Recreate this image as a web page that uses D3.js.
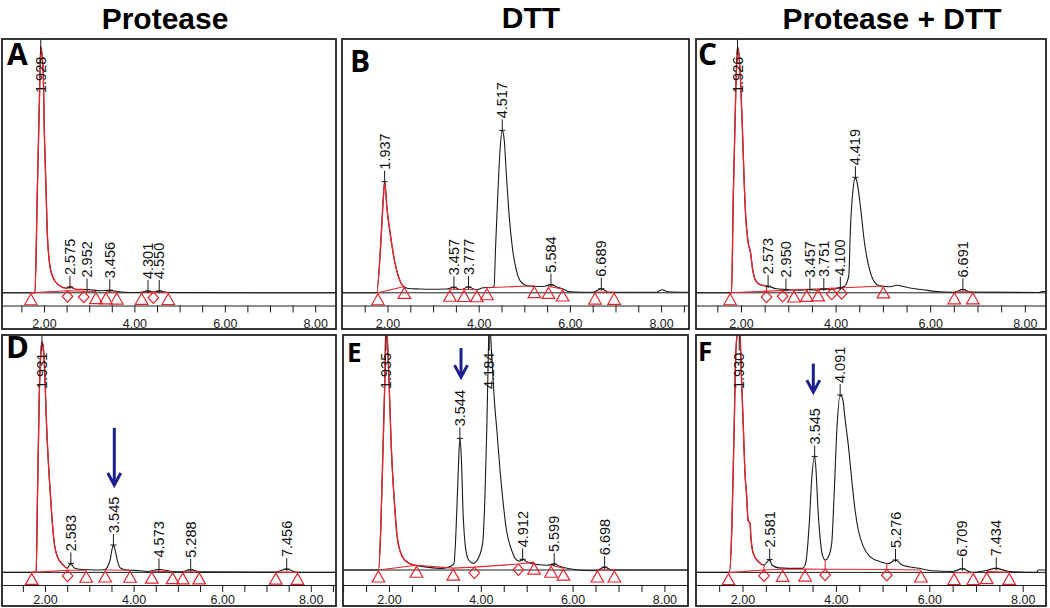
<!DOCTYPE html>
<html><head><meta charset="utf-8">
<script src="https://cdn.jsdelivr.net/npm/d3@7"></script>
<style>html,body{margin:0;padding:0;background:#fff;}svg{display:block;}</style>
</head><body>
<svg id="chart" width="1050" height="608"></svg>
<script>
// ---------------- DATA ----------------
const panelIds = ["A","B","C","D","E","F"];
const headers = ["Protease","DTT","Protease + DTT"];
const tickValues = [1,1.5,2,2.5,3,3.5,4,4.5,5,5.5,6,6.5,7,7.5,8,8.5];
const majorTicks = [2,4,6,8];
const tickLabels = ["2.00","4.00","6.00","8.00"];
const xDomains = [[1.071,8.460],[1.002,8.612],[1.049,8.448],[1.029,8.569],[0.998,8.514],[1.004,8.499]];
const yDomain = [-5,100];
const refLevels = [0,0,0,0.3,1.3,0.3];

// traces: [retention time (min), signal (% of full scale)]
const traceA = [[1.07,0],[1.80,0],[1.85,38],[1.90,77],[1.928,97],[1.96,93],[1.985,86],[2.007,64],[2.04,44],[2.07,25],[2.12,12],[2.19,6.4],[2.32,3.1],[2.50,1.8],[2.575,2.3],[2.73,1.3],[2.952,1.3],[3.25,0.8],[3.456,1.0],[3.72,0.3],[4.1,0.1],[4.301,0.7],[4.42,0.3],[4.55,0.7],[4.75,0.1],[8.46,0]];
const traceB = [[1.0,0],[1.76,0],[1.87,25],[1.91,38],[1.937,43.8],[1.99,33],[2.07,22],[2.15,13],[2.24,6.4],[2.35,2.5],[2.45,1.7],[2.7,1.5],[2.9,1.4],[3.3,1.5],[3.457,2.2],[3.6,1.2],[3.777,2.3],[3.95,1.2],[4.1,2.0],[4.3,2.2],[4.337,2.5],[4.37,18],[4.417,38],[4.467,56],[4.517,64],[4.561,60],[4.605,47],[4.663,31.5],[4.737,18],[4.824,9],[4.917,4.5],[5.067,2.8],[5.3,2.5],[5.45,2.6],[5.584,3.2],[5.7,2.4],[5.85,1.5],[6.0,0.4],[6.5,0.2],[6.689,1.6],[6.85,0.2],[7.9,0.2],[8.02,1.2],[8.15,0.4],[8.61,0.2]];
const traceC = [[1.05,0],[1.80,0],[1.837,38],[1.888,78],[1.926,97],[1.96,93],[1.99,84],[2.03,64.6],[2.065,45],[2.10,30],[2.15,20],[2.20,16],[2.245,9.4],[2.31,4.8],[2.42,3.1],[2.573,2.6],[2.75,1.6],[2.950,1.3],[3.2,1.0],[3.457,1.3],[3.6,1.0],[3.751,1.5],[3.9,1.3],[4.100,2.0],[4.19,2.6],[4.279,6.8],[4.313,25],[4.363,39.6],[4.419,45.5],[4.469,42],[4.539,31.7],[4.609,20],[4.715,9.4],[4.819,4.3],[4.926,2.8],[5.15,2.4],[5.29,3.0],[5.57,1.9],[5.85,1.2],[6.13,0.5],[6.5,0.2],[6.691,1.3],[6.85,0.3],[8.3,0.1],[8.37,0.5],[8.448,0.5]];
const traceD = [[1.03,0.3],[1.80,0.3],[1.83,32],[1.87,74],[1.91,93.7],[1.931,97],[1.96,95],[1.985,88],[2.04,60],[2.10,39],[2.15,25],[2.20,13.9],[2.28,6.9],[2.41,3.4],[2.50,2.1],[2.583,4.1],[2.66,2.1],[2.83,1.5],[3.13,1.3],[3.34,1.4],[3.47,5.5],[3.51,9.7],[3.545,11.8],[3.59,9],[3.64,4.8],[3.70,2.1],[3.85,1.3],[4.15,1.0],[4.30,0.7],[4.573,1.5],[4.86,0.7],[5.08,0.5],[5.288,1.4],[5.5,0.5],[7.2,0.4],[7.456,1.7],[7.7,0.3],[8.57,0.3]];
const traceE = [[1.0,1.3],[1.77,1.3],[1.82,18],[1.87,53],[1.91,81],[1.935,106],[1.96,100],[2.00,81],[2.05,53],[2.11,32],[2.18,15],[2.29,6.9],[2.44,4.1],[2.61,3.1],[2.83,2.5],[3.12,2.0],[3.30,2.5],[3.415,4],[3.475,25],[3.515,46],[3.544,56.6],[3.575,49],[3.615,25],[3.665,11],[3.735,5.5],[3.835,4.1],[3.925,5.5],[4.04,12.5],[4.09,32],[4.13,60],[4.16,88],[4.184,106],[4.24,91],[4.29,74],[4.35,60],[4.42,43],[4.49,29],[4.56,18],[4.67,9.7],[4.78,5.5],[4.85,5.0],[4.912,5.8],[5.0,4.8],[5.1,4.0],[5.28,3.5],[5.45,3.3],[5.599,3.8],[5.7,3.0],[5.88,2.0],[6.1,1.3],[6.5,1.0],[6.698,2.5],[6.85,1.3],[8.514,1.3]];
const traceF = [[1.0,0.3],[1.72,0.3],[1.77,18],[1.82,60],[1.86,94],[1.93,106],[1.98,81],[2.02,60],[2.05,43],[2.09,32],[2.12,22],[2.16,21],[2.18,15],[2.23,8.3],[2.34,4.8],[2.46,3.4],[2.581,5.7],[2.63,3.4],[2.78,2.2],[2.99,2.0],[3.28,2.0],[3.35,4],[3.43,21],[3.48,39],[3.545,49],[3.575,43],[3.61,29],[3.66,15],[3.72,6.9],[3.77,5.5],[3.84,6.9],[3.91,12.5],[3.96,32],[4.02,60],[4.091,74.8],[4.15,72.7],[4.19,65.7],[4.27,53],[4.34,39],[4.41,26.5],[4.48,18],[4.59,11],[4.73,6.9],[4.95,4.8],[5.13,4.0],[5.276,5.5],[5.42,3.4],[5.78,2.0],[6.06,1.0],[6.5,0.7],[6.709,1.8],[6.9,0.3],[7.2,1.0],[7.434,2.0],[7.7,0.7],[8.3,0.3],[8.33,1.3],[8.5,1.3]];

// labelled peaks (retention times)
const peaksA = [1.928,2.575,2.952,3.456,4.301,4.550];
const peaksB = [1.937,3.457,3.777,4.517,5.584,6.689];
const peaksC = [1.926,2.573,2.950,3.457,3.751,4.100,4.419,6.691];
const peaksD = [1.931,2.583,3.545,4.573,5.288,7.456];
const peaksE = [1.935,3.544,4.184,4.912,5.599,6.698];
const peaksF = [1.930,2.581,3.545,4.091,5.276,6.709,7.434];

// integration marks: [time, "t" triangle / "d" diamond, level]
const markersA = [[1.71,"t",0],[2.52,"d",0.8],[2.88,"d",0.6],[3.15,"t",0.5],[3.37,"t",0.4],[3.61,"t",0.3],[4.16,"t",0.2],[4.42,"d",0.3],[4.75,"t",0.1]];
const markersB = [[1.79,"t",0],[2.37,"t",2.5],[3.37,"t",1.4],[3.68,"t",1.3],[3.96,"t",1.2],[4.18,"t",2.0],[5.22,"t",2.8],[5.53,"t",2.5],[5.84,"t",1.5],[6.55,"t",0.3],[6.97,"t",0.2]];
const markersC = [[1.77,"t",0],[2.54,"d",0.6],[2.88,"d",0.9],[3.12,"t",1.1],[3.39,"t",1.35],[3.63,"t",1.55],[3.92,"d",1.8],[4.13,"d",2.0],[5.01,"t",2.7],[6.51,"t",0.4],[6.90,"t",0.4]];
const markersD = [[1.70,"t",0.3],[2.51,"d",1.2],[2.93,"t",1.2],[3.36,"t",1.3],[3.92,"t",1.2],[4.41,"t",0.8],[4.88,"t",0.6],[5.11,"t",0.5],[5.48,"t",0.5],[7.21,"t",0.4],[7.70,"t",0.3]];
const markersE = [[1.77,"t",1.3],[2.60,"t",3.3],[3.40,"t",2.1],[3.86,"d",2.5],[4.82,"d",3.8],[5.16,"t",4.6],[5.53,"t",3.3],[5.80,"t",2.1],[6.54,"t",1.3],[6.91,"t",1.3]];
const markersF = [[1.70,"t",0.2],[2.46,"d",1.3],[2.86,"t",1.6],[3.34,"t",1.7],[3.77,"d",1.6],[5.09,"d",1.5],[5.82,"t",1.3],[6.53,"t",0.2],[6.94,"t",0.2],[7.23,"t",0.6],[7.71,"t",0.3]];

// integration baselines (red)
const redBaseA = [[[1.71,0],[2.52,0.8],[2.88,0.6],[3.15,0.5]],[[3.37,0.4],[3.61,0.3]],[[4.16,0.2],[4.42,0.3],[4.75,0.1]]];
const redBaseB = [[[1.79,0],[2.37,2.5]],[[3.37,1.4],[3.68,1.3],[3.96,1.2]],[[4.18,2.0],[5.22,2.8]],[[5.53,2.5],[5.84,1.5]],[[6.55,0.3],[6.97,0.2]]];
const redBaseC = [[[1.77,0],[5.01,2.7]],[[6.51,0.4],[6.90,0.4]]];
const redBaseD = [[[1.70,0.3],[2.51,1.2],[2.93,1.2]],[[3.36,1.3],[3.92,1.2]],[[4.41,0.8],[4.88,0.6]],[[5.11,0.5],[5.48,0.5]],[[7.21,0.4],[7.70,0.3]]];
const redBaseE = [[[1.77,1.3],[2.60,3.3],[3.40,2.1],[3.86,2.5],[4.82,3.8],[5.16,4.6]],[[5.53,3.3],[5.80,2.1]],[[6.54,1.3],[6.91,1.3]]];
const redBaseF = [[[1.70,0.2],[2.46,1.3],[2.86,1.6],[3.34,1.7],[3.77,1.6],[5.09,1.5],[5.82,1.3]],[[6.53,0.2],[6.94,0.2]],[[7.23,0.6],[7.71,0.3]]];

// red-highlighted part of each trace (first peak)
const redSpan = [[1.71,2.88],[1.76,2.37],[1.77,2.54],[1.70,2.51],[1.77,2.60],[1.70,2.46]];

// blue arrows (panels D, E, F)
const arrowPanels = [3,4,5];
const arrowTimes = [3.564,3.569,3.516];
const arrowTop = [61,94.5,88];
const arrowTip = [37,82.3,76];

// ---------------- LAYOUT ----------------
const boxes = [
  {x0:2,  x1:336, y0:39,  y1:329, axisY:305.5, pad:7},
  {x0:342,x1:689, y0:39,  y1:329, axisY:305.5, pad:7},
  {x0:696,x1:1046,y0:39,  y1:329, axisY:305.5, pad:7},
  {x0:2,  x1:336, y0:335, y1:606, axisY:585,   pad:3},
  {x0:343,x1:688, y0:335, y1:606, axisY:585,   pad:3},
  {x0:696,x1:1046,y0:335, y1:606, axisY:585,   pad:3}
];
const headerPos = [[165,28.5],[531,27.5],[892,28.5]];
const letterPos = [[7,65,30],[350,72,30],[698,65,30],[6,358,31],[347,362,26],[698,361,26]];

const traces = [traceA,traceB,traceC,traceD,traceE,traceF];
const peaks = [peaksA,peaksB,peaksC,peaksD,peaksE,peaksF];
const markers = [markersA,markersB,markersC,markersD,markersE,markersF];
const redBases = [redBaseA,redBaseB,redBaseC,redBaseD,redBaseE,redBaseF];

const RED = "#e2262c", BLACK = "#1a1a1a", BLUE = "#1c1f8c";
const svg = d3.select("#chart");
const defs = svg.append("defs");

function valueAt(tr, t){
  const i = d3.bisector(d => d[0]).left(tr, t);
  if (i <= 0) return tr[0][1];
  if (i >= tr.length) return tr[tr.length-1][1];
  const a = tr[i-1], b = tr[i];
  return a[1] + (b[1]-a[1]) * (t-a[0]) / (b[0]-a[0]);
}

headers.forEach((h,i) => {
  svg.append("text").attr("x", headerPos[i][0]).attr("y", headerPos[i][1])
    .attr("text-anchor","middle").attr("font-family","'Liberation Sans', Arial, sans-serif")
    .attr("font-weight",700).attr("font-size",30).attr("fill","#000").text(h);
});

panelIds.forEach((id, i) => {
  const b = boxes[i];
  const x = d3.scaleLinear().domain(xDomains[i]).range([b.x0, b.x1]);
  const y = d3.scaleLinear().domain(yDomain).range([b.axisY, b.y0]);
  const g = svg.append("g");

  defs.append("clipPath").attr("id","clip"+id).append("rect")
    .attr("x", b.x0).attr("y", b.y0).attr("width", b.x1-b.x0).attr("height", b.axisY-b.y0);
  const sp = redSpan[i];
  defs.append("clipPath").attr("id","clipR"+id).append("rect")
    .attr("x", x(sp[0])).attr("y", b.y0).attr("width", x(sp[1])-x(sp[0])).attr("height", b.axisY-b.y0);

  const plot = g.append("g").attr("clip-path", `url(#clip${id})`);

  // reference (zero) line
  plot.append("line").attr("x1", b.x0).attr("x2", b.x1)
    .attr("y1", y(refLevels[i])).attr("y2", y(refLevels[i]))
    .attr("stroke", BLACK).attr("stroke-width", 1);

  const line = d3.line().x(d => x(d[0])).y(d => y(d[1])).curve(d3.curveMonotoneX);
  plot.append("path").datum(traces[i]).attr("d", line)
    .attr("fill","none").attr("stroke", BLACK).attr("stroke-width", 1.1);
  plot.append("g").attr("clip-path", `url(#clipR${id})`)
    .append("path").datum(traces[i]).attr("d", line)
    .attr("fill","none").attr("stroke", RED).attr("stroke-width", 1.4);

  // red integration baselines
  const lin = d3.line().x(d => x(d[0])).y(d => y(d[1]));
  redBases[i].forEach(seg => {
    plot.append("path").datum(seg).attr("d", lin)
      .attr("fill","none").attr("stroke", RED).attr("stroke-width", 1.1);
  });

  // markers
  markers[i].forEach(([t, type, h]) => {
    const mx = x(t), my = y(h);
    let d;
    if (type === "t") d = `M${mx},${my+1}L${mx+6.3},${my+12}L${mx-6.3},${my+12}Z`;
    else {
      d = `M${mx},${my}L${mx+5.3},${my+5.7}L${mx},${my+11.4}L${mx-5.3},${my+5.7}Z`;
      const tv = valueAt(traces[i], t);
      if (tv - h > 2) plot.append("line").attr("x1",mx).attr("x2",mx)
        .attr("y1", y(tv)).attr("y2", my).attr("stroke", RED).attr("stroke-width",1.1);
    }
    plot.append("path").attr("d", d).attr("fill","none")
      .attr("stroke", RED).attr("stroke-width", 1.2);
  });

  // peak labels
  peaks[i].forEach(p => {
    const px = x(p), hv = valueAt(traces[i], p), ay = y(hv);
    const txt = g.append("text").attr("font-family","'Liberation Sans', Arial, sans-serif")
      .attr("font-size", 14.5).attr("fill", "#111").attr("dy","0.35em").text(p.toFixed(3));
    const len = txt.node().getComputedTextLength();
    let start = ay - 12, clipped = false;
    if (start - len < b.y0 + 4) { start = b.y0 + 54; clipped = true; }
    txt.attr("transform", `translate(${px},${start}) rotate(-90)`);
    if (clipped) {
      g.append("line").attr("x1",px).attr("x2",px).attr("y1", b.y0).attr("y2", start-len-2)
        .attr("stroke", BLACK).attr("stroke-width", 1);
    } else {
      g.append("line").attr("x1",px).attr("x2",px).attr("y1", ay+2).attr("y2", start+1)
        .attr("stroke", BLACK).attr("stroke-width", 1);
      g.append("line").attr("x1",px-3).attr("x2",px+3).attr("y1", ay).attr("y2", ay)
        .attr("stroke", BLACK).attr("stroke-width", 1);
    }
  });

  // axis
  const ax = g.append("g").attr("transform", `translate(0,${b.axisY})`)
    .call(d3.axisBottom(x).tickValues(tickValues.filter(v => v >= xDomains[i][0] && v <= xDomains[i][1]))
      .tickSize(7).tickSizeOuter(0).tickPadding(b.pad)
      .tickFormat(v => { const k = majorTicks.indexOf(v); return k >= 0 ? tickLabels[k] : ""; }));
  ax.select(".domain").attr("stroke", BLACK).attr("stroke-width", 1);
  ax.selectAll(".tick line").attr("stroke", BLACK).attr("stroke-width", 1);
  ax.selectAll(".tick text").attr("font-family","'Liberation Sans', Arial, sans-serif")
    .attr("font-size", 12.5).attr("fill", "#222");

  // frame
  g.append("rect").attr("x", b.x0).attr("y", b.y0).attr("width", b.x1-b.x0).attr("height", b.y1-b.y0)
    .attr("fill","none").attr("stroke","#222").attr("stroke-width", 1.8);

  // panel letter
  g.append("text").attr("x", letterPos[i][0]).attr("y", letterPos[i][1])
    .attr("font-family","'Open Sans', sans-serif").attr("font-weight",700)
    .attr("font-size", letterPos[i][2]).attr("fill","#000").text(id);

  // arrow
  const ai = arrowPanels.indexOf(i);
  if (ai >= 0) {
    const axp = x(arrowTimes[ai]), y1 = y(arrowTop[ai]), y2 = y(arrowTip[ai]);
    g.append("line").attr("x1",axp).attr("x2",axp).attr("y1",y1).attr("y2",y2-1)
      .attr("stroke", BLUE).attr("stroke-width", 3);
    g.append("path").attr("d", `M${axp-6.5},${y2-12}L${axp},${y2}L${axp+6.5},${y2-12}`)
      .attr("fill","none").attr("stroke", BLUE).attr("stroke-width", 3)
      .attr("stroke-linejoin","miter");
  }
});
</script>
</body></html>
